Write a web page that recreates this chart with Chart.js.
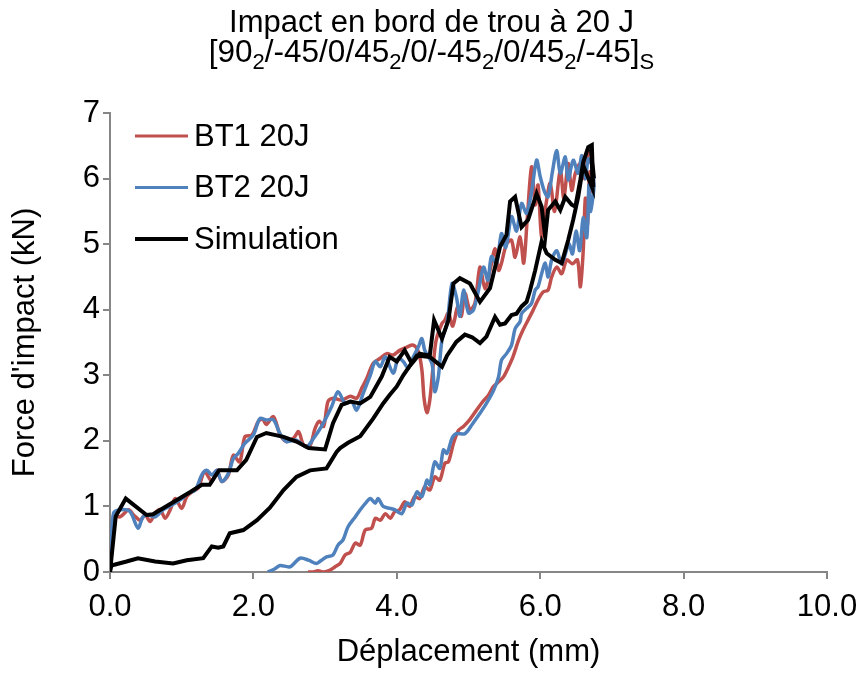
<!DOCTYPE html>
<html><head><meta charset="utf-8">
<script src="https://cdn.jsdelivr.net/npm/chart.js@4/dist/chart.umd.min.js"></script>
<style>html,body{margin:0;padding:0;background:#fff}#wrap{width:863px;height:675px}</style>
</head><body><div id="wrap"><canvas id="c" width="863" height="675"></canvas></div>
<script>
const FONT = "'Liberation Sans', Arial, sans-serif";
const titleLine1 = 'Impact en bord de trou à 20 J';
const titleLine2 = [['[90',0],['2',1],['/-45/0/45',0],['2',1],['/0/-45',0],['2',1],['/0/45',0],['2',1],['/-45]',0],['S',1]];
const xAxisTitle = 'Déplacement (mm)';
const yAxisTitle = "Force d'impact (kN)";
const xTicks = [0, 2, 4, 6, 8, 10];
const yTicks = [0, 1, 2, 3, 4, 5, 6, 7];
const seriesNames = ['BT1 20J', 'BT2 20J', 'Simulation'];
const seriesColors = ['#C0504D', '#4F81BD', '#000000'];

const bt1X = [0,0.05,0.14,0.26,0.33,0.42,0.49,0.56,0.63,0.7,0.77,0.84,0.91,1.0,1.07,1.14,1.23,1.32,1.42,1.49,1.56,1.65,1.72,1.81,1.88,1.98,2.07,2.13,2.18,2.28,2.37,2.46,2.56,2.63,2.7,2.79,2.86,2.92,2.98,3.04,3.11,3.23,3.35,3.44,3.51,3.58,3.67,3.77,3.86,3.95,4.04,4.14,4.23,4.3,4.35,4.38,4.42,4.46,4.51,4.55,4.63,4.67,4.72,4.78,4.85,4.9,4.95,5.02,5.09,5.16,5.23,5.3,5.37,5.42,5.46,5.53,5.6,5.65,5.72,5.77,5.82,5.88,5.93,5.97,6.02,6.08,6.14,6.2,6.28,6.33,6.39,6.44,6.49,6.56,6.62,6.66,6.7,6.73,
  6.72,6.69,6.66,6.63,6.6,6.56,6.52,6.45,6.37,6.3,6.23,6.16,6.11,6.04,5.97,5.9,5.83,5.76,5.7,5.62,5.56,5.49,5.42,5.35,5.28,5.2,5.1,5.0,4.93,4.86,4.79,4.72,4.67,4.6,4.53,4.46,4.39,4.32,4.25,4.18,4.11,4.04,3.97,3.91,3.84,3.77,3.7,3.65,3.56,3.49,3.42,3.35,3.28,3.21,3.14,3.07,2.98,2.9,2.84,2.76];
const bt1Y = [0,0.87,0.84,0.95,0.87,0.79,0.87,0.77,0.9,0.95,0.82,0.95,1.12,0.97,1.15,1.22,1.28,1.53,1.38,1.55,1.38,1.48,1.78,1.68,2.06,2.09,2.3,2.33,2.25,2.37,2.1,1.99,2.04,2.14,1.94,1.93,2.19,2.3,2.22,2.6,2.65,2.62,2.68,2.65,2.8,2.95,3.18,3.26,3.33,3.31,3.38,3.43,3.46,3.36,3.08,2.65,2.43,2.62,3.18,3.54,3.79,3.84,3.95,3.75,4.05,3.9,4.25,4.0,4.1,4.65,4.32,4.6,4.93,4.6,4.71,5.0,5.06,4.8,5.11,4.71,5.4,6.18,5.6,5.9,5.11,5.6,5.93,5.5,6.13,5.7,6.23,5.82,6.08,6.23,6.0,6.35,6.4,6.2,
  5.8,6.1,5.3,5.7,4.9,4.35,4.76,4.7,4.76,4.55,4.65,4.5,4.3,4.27,4.15,3.99,3.84,3.69,3.54,3.28,3.13,2.98,2.9,2.83,2.7,2.6,2.45,2.3,2.22,2.16,1.96,1.68,1.66,1.4,1.45,1.25,1.3,1.12,1.15,1.0,1.07,0.95,0.92,0.82,0.89,0.79,0.82,0.67,0.64,0.41,0.44,0.3,0.26,0.13,0.08,0.03,0.0,0.02,0.0,0.0];

const bt2X = [0,0.05,0.16,0.28,0.39,0.46,0.53,0.63,0.74,0.86,0.98,1.09,1.19,1.28,1.35,1.42,1.49,1.56,1.65,1.72,1.79,1.88,2.0,2.09,2.18,2.28,2.37,2.46,2.6,2.74,2.84,2.95,3.09,3.18,3.28,3.37,3.44,3.53,3.63,3.7,3.77,3.84,3.95,4.02,4.09,4.16,4.23,4.3,4.35,4.39,4.49,4.53,4.58,4.63,4.7,4.77,4.83,4.88,4.93,5.0,5.07,5.14,5.21,5.27,5.32,5.39,5.46,5.52,5.6,5.67,5.74,5.81,5.88,5.95,6.0,6.06,6.11,6.17,6.23,6.28,6.35,6.39,6.46,6.53,6.58,6.63,6.67,6.72,6.75,
  6.72,6.7,6.68,6.65,6.6,6.55,6.5,6.45,6.4,6.3,6.23,6.16,6.11,6.07,6.02,5.97,5.93,5.88,5.81,5.74,5.72,5.65,5.6,5.53,5.46,5.42,5.35,5.25,5.16,5.05,4.95,4.83,4.77,4.7,4.65,4.6,4.53,4.46,4.42,4.35,4.28,4.21,4.14,4.07,3.97,3.91,3.81,3.74,3.7,3.63,3.58,3.49,3.42,3.32,3.25,3.18,3.11,3.02,2.95,2.88,2.77,2.65,2.51,2.37,2.3,2.2];
const bt2Y = [0,0.9,0.95,0.92,0.67,0.84,0.87,0.84,0.95,1.02,1.1,1.2,1.25,1.48,1.55,1.48,1.55,1.38,1.5,1.73,1.81,1.96,2.09,2.34,2.32,2.32,2.11,1.99,2.01,1.91,2.04,2.22,2.52,2.75,2.57,2.6,2.47,2.72,3.0,3.21,3.13,3.28,3.03,3.26,3.21,3.11,3.28,3.43,3.56,3.38,3.18,2.75,2.98,3.54,3.79,4.4,4.2,3.9,4.3,3.95,4.0,4.3,4.65,4.45,4.81,4.7,5.16,4.95,5.42,5.2,5.62,5.47,5.8,6.28,6.03,5.8,5.72,6.1,6.43,6.08,6.33,5.98,6.28,6.08,6.35,6.0,6.3,6.2,5.9,
  5.6,5.5,5.9,5.1,5.4,4.9,5.2,4.85,5.0,4.7,4.9,4.76,4.5,4.71,4.55,4.35,4.3,4.1,4.02,3.94,3.82,3.71,3.46,3.33,3.23,2.98,2.77,2.57,2.42,2.25,2.11,2.11,2.04,1.81,1.86,1.58,1.68,1.33,1.4,1.15,1.22,1.02,1.05,0.89,0.95,0.97,1.0,1.12,1.05,1.12,1.07,0.95,0.84,0.69,0.49,0.41,0.26,0.23,0.18,0.13,0.18,0.21,0.08,0.1,0.05,0.0];

const simX = [0,0.08,0.22,0.51,0.6,1.12,1.28,1.39,1.52,1.77,1.9,2.05,2.18,2.42,2.6,2.77,3.0,3.11,3.23,3.35,3.49,3.63,3.79,3.9,4.0,4.11,4.21,4.32,4.46,4.52,4.63,4.72,4.79,4.88,5.02,5.16,5.3,5.44,5.53,5.58,5.65,5.74,5.83,5.95,6.02,6.07,6.11,6.21,6.28,6.35,6.44,6.49,6.56,6.6,6.67,6.72,6.74,6.71,6.75,6.72,6.73,
  6.6,6.53,6.46,6.39,6.3,6.21,6.09,6.02,5.93,5.86,5.81,5.74,5.67,5.6,5.51,5.44,5.37,5.25,5.16,5.05,4.95,4.83,4.7,4.63,4.55,4.46,4.28,4.09,4.0,3.9,3.81,3.67,3.49,3.32,3.21,3.16,3.02,2.79,2.6,2.42,2.23,2.05,1.86,1.67,1.58,1.51,1.42,1.3,1.07,0.88,0.63,0.39,0.23,0.02,0];
const simY = [0,0.85,1.12,0.87,0.88,1.22,1.33,1.33,1.55,1.55,1.71,2.06,2.12,2.06,1.99,1.89,1.87,2.27,2.55,2.6,2.57,2.67,2.98,3.28,3.21,3.38,3.18,3.33,3.3,3.84,3.56,3.84,4.4,4.48,4.4,4.12,4.33,4.96,5.14,5.65,5.72,5.26,5.37,5.77,5.57,5.11,5.52,5.65,5.52,5.72,5.6,5.57,5.98,6.25,6.48,6.51,5.87,6.45,6.0,6.3,5.85,
  6.2,5.72,5.37,5.06,4.71,4.76,4.86,5.04,4.6,4.3,4.12,4.05,3.94,3.92,3.79,3.77,3.89,3.59,3.49,3.58,3.62,3.51,3.3,3.13,3.2,3.28,3.3,3.0,2.83,2.7,2.57,2.34,2.07,1.97,1.89,1.83,1.58,1.55,1.45,1.25,0.98,0.79,0.64,0.59,0.39,0.37,0.39,0.21,0.18,0.13,0.16,0.21,0.16,0.1,0];

function pts(xs, ys) { return xs.map((x, i) => ({ x: x, y: ys[i] })); }

const overlayPlugin = {
  id: 'overlayText',
  afterDraw(chart) {
    const ctx = chart.ctx, ca = chart.chartArea;
    ctx.save();
    ctx.fillStyle = '#000';
    const cx = chart.width / 2;
    ctx.textBaseline = 'alphabetic';
    ctx.textAlign = 'center';
    ctx.font = '31px ' + FONT;
    ctx.fillText(titleLine1, cx, 32);
    let total = 0;
    const parts = titleLine2.map(([t, sub]) => {
      ctx.font = (sub ? '22px ' : '31.5px ') + FONT;
      const w = ctx.measureText(t).width; total += w; return { t, sub, w };
    });
    let x = cx - total / 2;
    ctx.textAlign = 'left';
    parts.forEach(p => {
      ctx.font = (p.sub ? '22px ' : '31.5px ') + FONT;
      ctx.fillText(p.t, x, p.sub ? 69 : 62);
      x += p.w;
    });
    ctx.textBaseline = 'middle';
    ctx.font = '31px ' + FONT;
    seriesNames.forEach((name, i) => {
      const y = ca.top + 23 + i * 51.5;
      ctx.strokeStyle = seriesColors[i];
      ctx.lineWidth = i === 2 ? 4 : 3;
      ctx.beginPath();
      ctx.moveTo(ca.left + 25, y);
      ctx.lineTo(ca.left + 78, y);
      ctx.stroke();
      ctx.fillStyle = '#000';
      ctx.fillText(name, ca.left + 84, y + 1);
    });
    ctx.restore();
  }
};

const axisGray = '#868686';
new Chart(document.getElementById('c'), {
  type: 'scatter',
  data: {
    datasets: [
      { label: seriesNames[2], data: pts(simX, simY), showLine: true, borderColor: seriesColors[2], borderWidth: 4, pointRadius: 0, tension: 0, fill: false },
      { label: seriesNames[1], data: pts(bt2X, bt2Y), showLine: true, borderColor: seriesColors[1], borderWidth: 3.5, pointRadius: 0, tension: 0.3, fill: false },
      { label: seriesNames[0], data: pts(bt1X, bt1Y), showLine: true, borderColor: seriesColors[0], borderWidth: 3.5, pointRadius: 0, tension: 0.3, fill: false }
    ]
  },
  options: {
    responsive: false,
    animation: false,
    devicePixelRatio: 1,
    layout: { padding: { top: 113, right: 36, bottom: 0, left: 0 } },
    plugins: { legend: { display: false }, title: { display: false }, tooltip: { enabled: false } },
    scales: {
      x: {
        type: 'linear', min: 0, max: 10,
        afterBuildTicks: s => { s.ticks = xTicks.map(v => ({ value: v })); },
        afterFit: s => { s.height = 103; s.paddingRight = 0; s.paddingLeft = 0; },
        ticks: { color: '#000', font: { size: 31, family: FONT }, padding: 10, callback: v => Number(v).toFixed(1), maxRotation: 0 },
        grid: { drawOnChartArea: false, drawTicks: true, tickLength: 7, color: axisGray, lineWidth: 2 },
        border: { display: true, color: axisGray, width: 2 },
        title: { display: true, text: xAxisTitle, color: '#000', font: { size: 31, family: FONT }, padding: { top: 0, bottom: 4 } }
      },
      y: {
        type: 'linear', min: 0, max: 7,
        afterBuildTicks: s => { s.ticks = yTicks.map(v => ({ value: v })); },
        afterFit: s => { s.width = 110; },
        ticks: { color: '#000', font: { size: 31, family: FONT }, padding: 3, callback: v => String(v) },
        grid: { drawOnChartArea: false, drawTicks: true, tickLength: 7, color: axisGray, lineWidth: 2 },
        border: { display: true, color: axisGray, width: 2 },
        title: { display: true, text: yAxisTitle, color: '#000', font: { size: 31, family: FONT }, padding: { top: 7, bottom: 0 } }
      }
    }
  },
  plugins: [overlayPlugin]
});
</script>
</body></html>
